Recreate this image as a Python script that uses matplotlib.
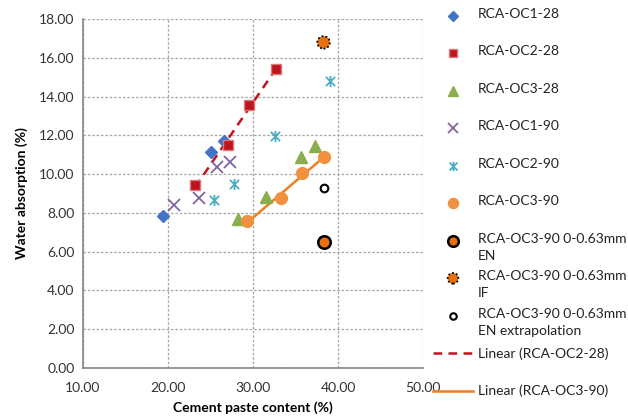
import numpy as np
import matplotlib
matplotlib.use("Agg")
import matplotlib.pyplot as plt
from matplotlib.lines import Line2D
from matplotlib.path import Path

plt.rcParams['font.family'] = ['Lato', 'DejaVu Sans']

# Cement paste content (%) and water absorption (%) per series
oc1_28_x = [19.4, 25.0, 26.6]
oc1_28_y = [7.84, 11.16, 11.71]
oc2_28_x = [23.2, 27.1, 29.5, 32.7]
oc2_28_y = [9.44, 11.52, 13.59, 15.41]
oc3_28_x = [28.2, 31.5, 35.7, 37.3]
oc3_28_y = [7.68, 8.82, 10.90, 11.47]
oc1_90_x = [20.7, 23.6, 25.8, 27.3]
oc1_90_y = [8.41, 8.78, 10.35, 10.64]
oc2_90_x = [25.4, 27.8, 32.6, 39.0]
oc2_90_y = [8.65, 9.51, 11.94, 14.80]
oc3_90_x = [29.3, 33.3, 35.8, 38.4]
oc3_90_y = [7.58, 8.75, 10.08, 10.90]
en_x, en_y = [38.4], [6.51]
if_x, if_y = [38.3], [16.79]
extrap_x, extrap_y = [38.3], [9.28]

x_ticks = [10, 20, 30, 40, 50]
y_ticks = [0, 2, 4, 6, 8, 10, 12, 14, 16, 18]

labels = ["RCA-OC1-28", "RCA-OC2-28", "RCA-OC3-28", "RCA-OC1-90", "RCA-OC2-90",
          "RCA-OC3-90", "RCA-OC3-90 0-0.63mm\nEN", "RCA-OC3-90 0-0.63mm\nIF",
          "RCA-OC3-90 0-0.63mm\nEN extrapolation", "Linear (RCA-OC2-28)",
          "Linear (RCA-OC3-90)"]

c_blue = '#4472C4'
c_red = '#C0141C'
c_green = '#8AAE4B'
c_purple = '#8064A2'
c_cyan = '#4BACC6'
c_orange = '#F0913F'
c_dorange = '#E8700F'
c_trend = '#F07F1F'

# Star marker: a diagonal cross with a vertical bar through it
star = Path([(-0.5, -0.5), (0.5, 0.5), (-0.5, 0.5), (0.5, -0.5), (0, -0.6), (0, 0.6)],
            [Path.MOVETO, Path.LINETO, Path.MOVETO, Path.LINETO, Path.MOVETO, Path.LINETO])

W, H = 628, 416
fig = plt.figure(figsize=(W / 100, H / 100), dpi=100)
ax = fig.add_axes([83 / W, 1 - 368 / H, (423 - 83) / W, (368 - 19) / H])

styles = [
    dict(x=oc1_28_x, y=oc1_28_y, marker='D', ms=6.5, mfc=c_blue, mec=c_blue, mew=1),
    dict(x=oc2_28_x, y=oc2_28_y, marker='s', ms=7.5, mfc=c_red, mec='#D9797D', mew=1),
    dict(x=oc3_28_x, y=oc3_28_y, marker='^', ms=8.5, mfc=c_green, mec=c_green, mew=1),
    dict(x=oc1_90_x, y=oc1_90_y, marker='x', ms=8, mfc='none', mec=c_purple, mew=1.3),
    dict(x=oc2_90_x, y=oc2_90_y, marker=star, ms=8, mfc='none', mec=c_cyan, mew=1.3),
    dict(x=oc3_90_x, y=oc3_90_y, marker='o', ms=8.5, mfc=c_orange, mec=c_orange, mew=1),
    dict(x=en_x, y=en_y, marker='o', ms=9, mfc=c_dorange, mec='black', mew=1.8),
    dict(x=if_x, y=if_y, marker='o', ms=9, mfc=c_dorange, mec='black', mew=1.3, dotted=True),
    dict(x=extrap_x, y=extrap_y, marker='o', ms=5.5, mfc='white', mec='black', mew=1.5),
]

# Linear trend lines drawn over the x-range of their series
def trend(xs, ys):
    k, b = np.polyfit(xs, ys, 1)
    xx = np.array([min(xs), max(xs)])
    return xx, k * xx + b

tx, ty = trend(oc2_28_x, oc2_28_y)
ax.plot(tx, ty, color=c_red, lw=1.8, ls=(0, (3.5, 2.5)), zorder=2)
tx, ty = trend(oc3_90_x, oc3_90_y)
ax.plot(tx, ty, color=c_trend, lw=1.8, zorder=2)


def draw_points(target, xs, ys, s, scale=1.0, **kw):
    ms = s['ms'] * scale
    if s.get('dotted'):
        target.scatter(xs, ys, s=ms ** 2, marker='o', facecolors=s['mfc'],
                       edgecolors='black', linewidths=s['mew'],
                       linestyles=(0, (1, 1.2)), zorder=4, **kw)
    else:
        line = Line2D(xs, ys, ls='none', marker=s['marker'], ms=ms,
                      mfc=s['mfc'], mec=s['mec'], mew=s['mew'], zorder=3, **kw)
        target.add_artist(line) if 'transform' in kw else target.add_line(line)


for s in styles:
    draw_points(ax, s['x'], s['y'], s)

ax.set_xlim(10, 50)
ax.set_ylim(0, 18)
ax.set_xticks(x_ticks)
ax.set_yticks(y_ticks)
ax.set_xticklabels([f"{v:.2f}" for v in x_ticks], fontsize=10)
ax.set_yticklabels([f"{v:.2f}" for v in y_ticks], fontsize=10)
ax.tick_params(axis='x', length=0, pad=10, colors='#333333')
ax.tick_params(axis='y', length=0, pad=6, colors='#333333')
ax.grid(True, color='#A6A6A6', ls=(0, (2, 1.5)), lw=0.9)
ax.set_axisbelow(True)
for side in ['top', 'right']:
    ax.spines[side].set_visible(False)
for side in ['left', 'bottom']:
    ax.spines[side].set_color('#868686')
    ax.spines[side].set_linewidth(1.2)
ax.set_xlabel("Cement paste content (%)", fontsize=10, fontweight='bold', labelpad=5)
ax.set_ylabel("Water absorption (%)", fontsize=10, fontweight='bold', labelpad=8)

# Key on the right-hand side
def fx(px):
    return px / W

def fy(py):
    return 1 - py / H

row_y = [15.7, 53.3, 91, 128.3, 165.7, 203.3, 240.7, 278.3, 315.7, 353.3, 390.7]
mx, tx0 = 453, 478
for i, s in enumerate(styles):
    y = row_y[i]
    draw_points(ax, [fx(mx)], [fy(y)], s, scale=0.85,
                transform=fig.transFigure, clip_on=False)
    fig.text(fx(tx0), fy(y - 8), labels[i], fontsize=10, color='#222222',
             va='top', ha='left', linespacing=1.5)
for j, (col, dash) in enumerate([(c_red, (0, (3.5, 2.5))), (c_trend, '-')]):
    y = row_y[9 + j]
    fig.add_artist(Line2D([fx(433), fx(473)], [fy(y), fy(y)], color=col, lw=1.8,
                          ls=dash, transform=fig.transFigure))
    fig.text(fx(tx0), fy(y), labels[9 + j], fontsize=10, color='#222222',
             va='center', ha='left')

fig.savefig("out.png", dpi=100)
